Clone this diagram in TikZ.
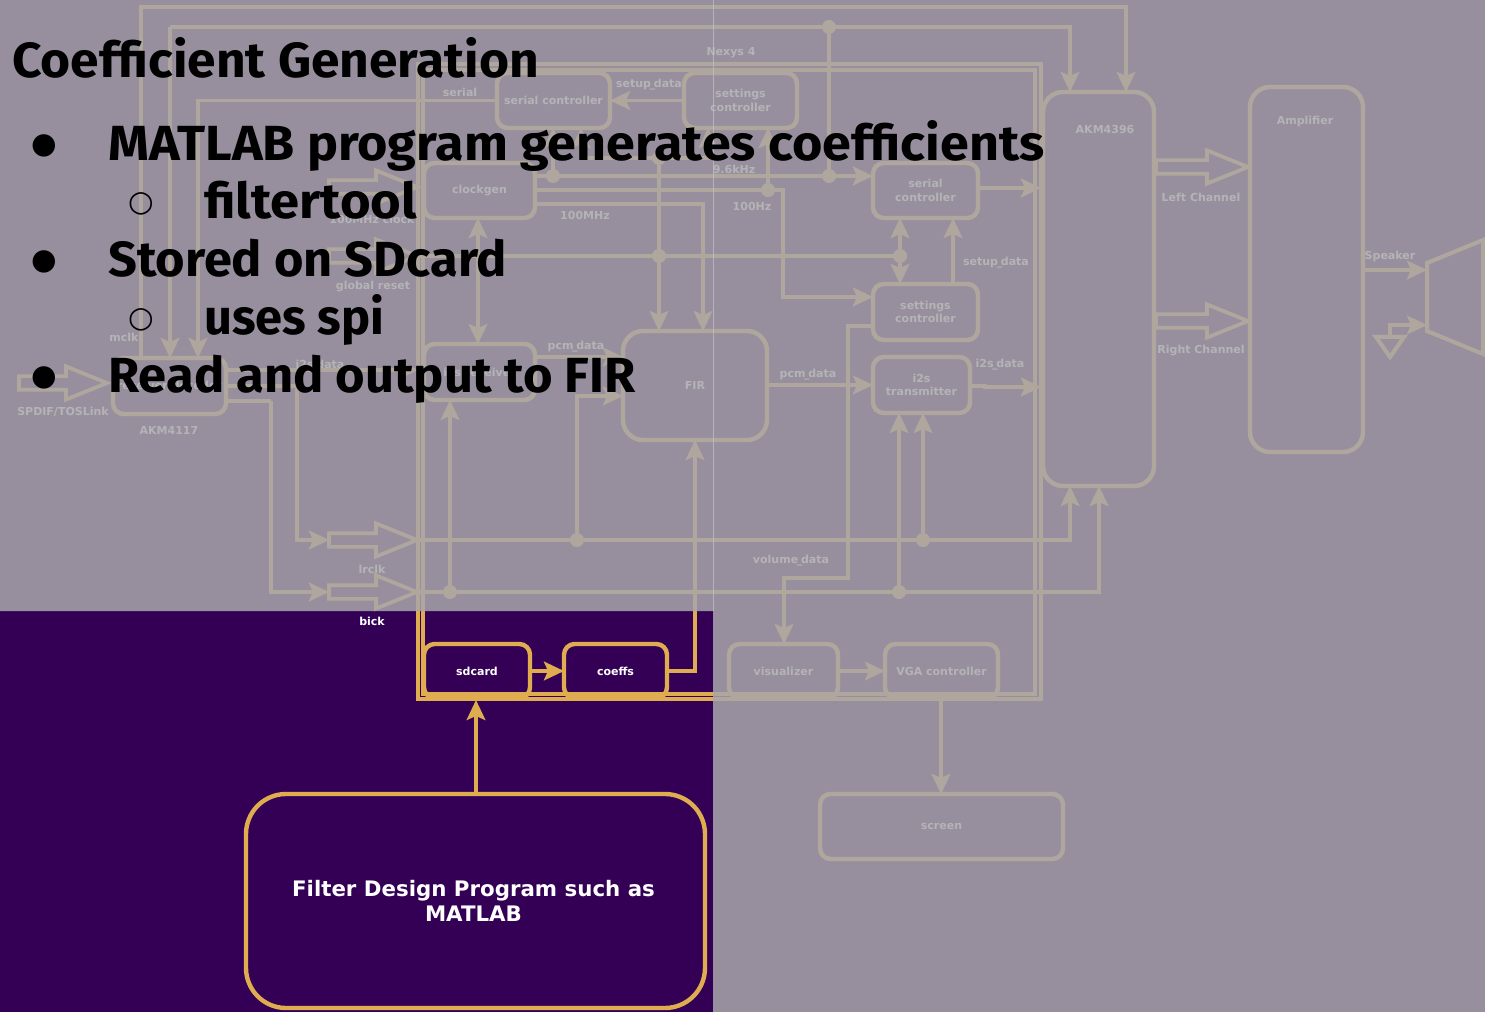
\documentclass[tikz,border=0pt]{standalone}
\usepackage{fontspec}
\usepackage{graphicx}
\setmainfont{DejaVu Sans}
\newfontfamily\slidefont[FakeStretch=1.04]{Fira Sans}
\newfontfamily\bulletfont{DejaVu Sans}
\usetikzlibrary{arrows.meta,shapes.arrows}
\definecolor{slidebg}{RGB}{51,0,85}
\definecolor{gold}{RGB}{224,172,80}
\definecolor{veil}{RGB}{168,167,170}
\newcommand{\usc}{\kern-1pt\_\kern-1pt}
\newcommand{\boxnode}[7][]{%
  \node[box,#1,minimum width={(#5-#3)*0.75pt},minimum height={(#6-#4)*0.75pt}] (#2) at ({(#3+#5)/2},{(#4+#6)/2}) {#7};}
\tikzset{
  x=0.75pt,y=-0.75pt,
  box/.style={draw=gold,line width=3.3pt,rounded corners=8pt,inner sep=0pt,outer sep=0pt,text=white,align=center,font=\bfseries\fontsize{8.25}{10}\selectfont},
  bigbox/.style={rounded corners=15pt},
  frame/.style={draw=gold,line width=3.6pt,inner sep=0pt,outer sep=0pt},
  wire/.style={draw=gold,line width=2.8pt},
  sig/.style={wire,-{Stealth[length=15pt,width=14pt,inset=3pt]}},
  dsig/.style={wire,{Stealth[length=15pt,width=14pt,inset=3pt]}-{Stealth[length=15pt,width=14pt,inset=3pt]}},
  hollow/.style={single arrow,draw=gold,line width=2.8pt,inner sep=0pt,outer sep=0pt,anchor=tail,text height=3.75pt,text depth=3.75pt,minimum width=0pt,single arrow head extend=7.25pt,single arrow tip angle=44},
  dot/.style={circle,fill=gold,inner sep=0pt,outer sep=0pt,minimum size=10.5pt},
  lbl/.style={text=white,inner sep=0pt,font=\bfseries\fontsize{8.25}{10}\selectfont},
  head/.style={anchor=base west,inner sep=0pt,text=black,font=\slidefont\bfseries\fontsize{37}{37}\selectfont},
  bul/.style={inner sep=0pt,text=black,font=\bulletfont\fontsize{22}{22}\selectfont},
}
\begin{document}
\begin{tikzpicture}
\useasboundingbox (0,0) rectangle (1485,1012);
\fill[slidebg] (0,0) rectangle (1485,1012);

% board frames
\boxnode[frame,rounded corners=0pt]{nexysouter}{418}{64}{1041}{699}{}
\boxnode[frame,rounded corners=0pt]{nexysinner}{423}{70}{1035}{694}{}
\node[lbl] (nexyslabel) at (731,53) {Nexys 4};

% blocks
\boxnode{serialctlA}{497}{73}{610}{128}{serial controller}
\boxnode{settingsA}{684}{73}{797}{128}{settings\\[0pt]controller}
\boxnode{clockgen}{424}{163}{535}{218}{\raisebox{-0.7pt}{clockgen}}
\boxnode{i2srx}{424}{344}{535}{400}{i2s receiver}
\boxnode[bigbox]{fir}{623}{331}{767}{440}{FIR}
\boxnode{serialctlB}{873}{163}{978}{218}{serial\\[0pt]controller}
\boxnode{settingsB}{873}{284}{978}{340}{settings\\[0pt]controller}
\boxnode{i2stx}{873}{357}{970}{413}{i2s\\[0pt]transmitter}
\boxnode[bigbox]{akmB}{1043}{92}{1154}{486}{}
\boxnode[bigbox]{amp}{1250}{87}{1363}{452}{}
\boxnode{akmA}{113}{358}{226}{414}{receiver/decoder}
\boxnode{sdcard}{424}{644}{530}{698}{sdcard}
\boxnode{coeffs}{564}{644}{667}{698}{coeffs}
\boxnode{visual}{729}{644}{838}{698}{visualizer}
\boxnode{vga}{885}{644}{998}{698}{VGA controller}
\boxnode{screen}{820}{794}{1063}{859}{screen}
\boxnode[rounded corners=30pt,font=\bfseries\fontsize{16}{18.8}\selectfont]{filter}{246}{794}{705}{1008}{Filter Design Program such as\kern3pt\\MATLAB\kern3pt}

% hollow bus arrows
\node[hollow,minimum height=66pt] (spdif) at (19,383) {};
\node[hollow,minimum height=66pt] (clkin) at (329,187) {};
\node[hollow,minimum height=66pt] (rstin) at (329,256) {};
\node[hollow,minimum height=66pt] (lrclk) at (329,540) {};
\node[hollow,minimum height=66pt] (bick) at (329,592) {};
\node[hollow,minimum height=69pt] (leftch) at (1156,167) {};
\node[hollow,minimum height=69pt] (rightch) at (1156,321) {};

% speaker and ground
\draw[wire,line width=3pt] (1427,263) -- (1483,240) -- (1483,354) -- (1427,331) -- cycle;
\coordinate (spktop) at (1427,270);
\coordinate (spkgnd) at (1427,325);
\coordinate (gndtop) at (1390,337);
\draw[wire,line width=3pt] (1376,337) -- (1404,337) -- (1390,357) -- cycle;

% junction dots
\node[dot] (j829a) at (829,27) {};
\node[dot] (j829b) at (829,176) {};
\node[dot] (j553) at (553,176) {};
\node[dot] (j659a) at (659,158) {};
\node[dot] (j659b) at (659,256) {};
\node[dot] (j768) at (768,190) {};
\node[dot] (j900) at (900,256) {};
\node[dot] (j577) at (577,540) {};
\node[dot] (j923) at (923,540) {};
\node[dot] (j450) at (450,592) {};
\node[dot] (j899) at (899,592) {};

% connectors
\draw[sig] (akmA.north -| 141,0) |- (1126,7) -- (akmB.north -| 1126,0);
\draw[sig] (170,27) -- (akmA.north -| 170,0);
\draw[sig] (170,27) -- (j829a) -| (akmB.north -| 1070,0);
\draw[wire] (j829a) -- (j829b);
\draw[sig] (serialctlA.west) -| (akmA.north -| 198,0);
\draw[sig] (settingsA.west) -- (serialctlA.east);
\draw[sig] (clockgen.east |- 0,176) -- (j553) -- (j829b) -- (serialctlB.west |- 0,176);
\draw[sig] (j553) -- (serialctlA.south -| 553,0);
\draw[sig] (j659a) -| (serialctlA.south -| 581,0);
\draw[sig] (j659a) -| (settingsA.south -| 708,0);
\draw[wire] (j659a) -- (j659b);
\draw[sig] (j659b) -- (fir.north -| 659,0);
\draw[sig] (clockgen.east |- 0,190) -- (j768) -- (783,190) |- (settingsB.west |- 0,297);
\draw[sig] (j768) -- (settingsA.south -| 768,0);
\draw[sig] (clockgen.east |- 0,204) -| (fir.north -| 703,0);
\draw[wire] (rstin.tip) -- (j659b) -- (j900);
\draw[sig] (j900) -- (serialctlB.south -| 900,0);
\draw[sig] (j900) -- (settingsB.north -| 900,0);
\draw[dsig] (clockgen.south -| 478,0) -- (i2srx.north -| 478,0);
\draw[sig] (settingsB.north -| 953,0) -- (serialctlB.south -| 953,0);
\draw[sig] (serialctlB.east |- 0,188) -- (nexysouter.east |- 0,188);
\draw[sig] (i2stx.east |- 0,386) -- (985,386) -- (985,387) -- (nexysouter.east |- 0,387);
\draw[sig] (fir.east |- 0,385) -- (i2stx.west |- 0,385);
\draw[sig] (settingsB.west |- 0,326) -- (848,326) |- (784,578) -- (visual.north -| 784,0);
\draw[sig] (i2srx.east |- 0,357) -- (fir.west |- 0,357);
\draw[sig] (j577) |- (fir.west |- 0,396);
\draw[wire] (akmA.east |- 0,401) -- (271,401);
\draw[sig] (271,401) |- (bick.tail);
\draw[sig] (akmA.east |- 0,386) -| (297,540) -- (lrclk.tail);
\draw[sig] (akmA.east |- 0,370) -- (nexysouter.west |- 0,370);
\draw[sig] (lrclk.tip) -- (j577) -- (j923) -| (akmB.south -| 1070,0);
\draw[sig] (j923) -- (i2stx.south -| 923,0);
\draw[sig] (bick.tip) -- (j450) -- (j899) -| (akmB.south -| 1099,0);
\draw[sig] (j899) -- (i2stx.south -| 899,0);
\draw[sig] (j450) -- (i2srx.south -| 450,0);
\draw[sig] (sdcard.east) -- (coeffs.west);
\draw[sig] (coeffs.east) -| (fir.south -| 695,0);
\draw[sig] (visual.east) -- (vga.west);
\draw[sig] (vga.south -| 941,0) -- (screen.north -| 941,0);
\draw[sig] (filter.north -| 476,0) -- (476,700);
\draw[sig] (amp.east |- 0,270) -- (spktop);
\draw[sig] (gndtop) |- (spkgnd);

% labels
\node[lbl] (l1) at (460,92) {serial};
\node[lbl] (l2) at (649,85) {setup\usc data};
\node[lbl] (l3) at (734,169) {9.6kHz};
\node[lbl] (l4) at (752,206) {100Hz};
\node[lbl] (l5) at (585,215) {100MHz};
\node[lbl] (l6) at (996,263) {setup\usc data};
\node[lbl] (l7) at (1000,365) {i2s\usc data};
\node[lbl] (l8) at (808,375) {pcm\usc data};
\node[lbl] (l9) at (576,347) {pcm\usc data};
\node[lbl] (l10) at (791,561) {volume\usc data};
\node[lbl] (l11) at (372,219) {100MHz clock};
\node[lbl] (l12) at (373,287) {global reset};
\node[lbl] (l13) at (124,337) {mclk};
\node[lbl] (l14) at (320,366) {i2s\usc data};
\node[lbl] (l15) at (63,412) {SPDIF/TOSLink};
\node[lbl] (l16) at (169,430) {AKM4117};
\node[lbl] (l17) at (372,569) {lrclk};
\node[lbl] (l18) at (372,621) {bick};
\node[lbl] (l19) at (1105,129) {AKM4396};
\node[lbl] (l20) at (1305,121) {Amplifier};
\node[lbl] (l21) at (1201,197) {Left Channel};
\node[lbl] (l22) at (1201,351) {Right Channel};
\node[lbl] (l23) at (1390,256) {Speaker};

% translucent veil
\fill[veil,opacity=0.86] (0,0) -- (1485,0) -- (1485,1012) -- (713,1012) -- (713,611) -- (0,611) -- cycle;
\draw[veil!70!white,line width=0.5pt,opacity=0.7] (713,0) -- (713,611);

% slide text
\node[head] (title) at (12,78) {\scalebox{1.004}[1]{Coefficient Generation}};
\node[head] (b1) at (108,161) {\scalebox{1.014}[1]{MATLAB program generates coefficients}};
\node[head] (b2) at (204,219) {\scalebox{1.024}[1]{filtertool}};
\node[head] (b3) at (108,277) {\scalebox{0.985}[1]{Stored on SDcard}};
\node[head] (b4) at (204,335) {\scalebox{0.952}[1]{uses spi}};
\node[head] (b5) at (108,393) {\scalebox{0.987}[1]{Read and output to FIR}};
\node[bul] (d1) at (44,146) {●};
\node[bul] (d2) at (141,204) {○};
\node[bul] (d3) at (44,262) {●};
\node[bul] (d4) at (141,320) {○};
\node[bul] (d5) at (44,378) {●};
\end{tikzpicture}
\end{document}
